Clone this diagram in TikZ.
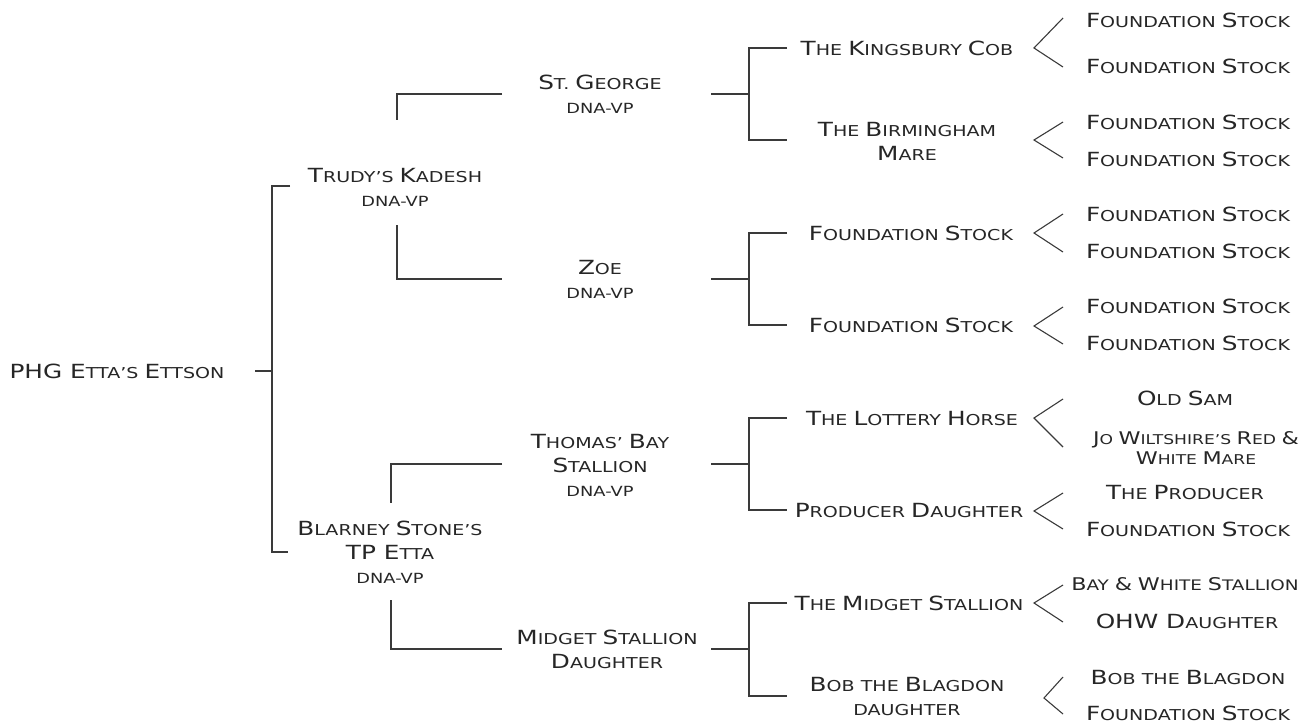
\documentclass[tikz,border=0pt]{standalone}
\usepackage{fontspec}
\setmainfont{DejaVu Sans}[FakeStretch=1.27]
\definecolor{txt}{HTML}{262626}
\definecolor{ln}{HTML}{3A3A3A}
\newcommand\Bg[1]{{\fontsize{19.5}{25}\selectfont #1}}
\newcommand\Bs[1]{{\fontsize{17.5}{20}\selectfont #1}}
\newcommand\Dv{{\fontsize{14}{25}\selectfont DNA-VP}}
\tikzset{
  nm/.style={align=center, inner sep=0pt, text=txt, font=\fontsize{15}{24}\selectfont},
  con/.style={draw=ln, line width=1.2pt},
  chev/.style={draw=ln, line width=1.1pt}
}
\begin{document}
\begin{tikzpicture}[x=1pt,y=-1pt]
\useasboundingbox (0,0) rectangle (1310,726);
% generation 0
\node[nm] (root) at (117,371) {\Bg{PHG E}TTA'S \Bg{E}TTSON};
% generation 1
\node[nm] (trudy) at (395,187) {\Bg{T}RUDY'S \Bg{K}ADESH\\\Dv};
\node[nm] (blarney) at (390,552) {\Bg{B}LARNEY \Bg{S}TONE'S\\\Bg{TP E}TTA\\\Dv};
% generation 2
\node[nm] (stg) at (600,94) {\Bg{S}T. \Bg{G}EORGE\\\Dv};
\node[nm] (zoe) at (600,279) {\Bg{Z}OE\\\Dv};
\node[nm] (thomas) at (600,465) {\Bg{T}HOMAS' \Bg{B}AY\\\Bg{S}TALLION\\\Dv};
\node[nm] (midget) at (607,649) {\Bg{M}IDGET \Bg{S}TALLION\\\Bg{D}AUGHTER};
% generation 3
\node[nm] (kings) at (907,48) {\Bg{T}HE \Bg{K}INGSBURY \Bg{C}OB};
\node[nm] (birm) at (907,141) {\Bg{T}HE \Bg{B}IRMINGHAM\\\Bg{M}ARE};
\node[nm] (fsa) at (911,233) {\Bg{F}OUNDATION \Bg{S}TOCK};
\node[nm] (fsb) at (911,325) {\Bg{F}OUNDATION \Bg{S}TOCK};
\node[nm] (lott) at (912,418) {\Bg{T}HE \Bg{L}OTTERY \Bg{H}ORSE};
\node[nm] (prodd) at (909,510) {\Bg{P}RODUCER \Bg{D}AUGHTER};
\node[nm] (midst) at (909,603) {\Bg{T}HE \Bg{M}IDGET \Bg{S}TALLION};
\node[nm] (bob) at (907,696) {\Bg{B}OB THE \Bg{B}LAGDON\\DAUGHTER};
% generation 4
\node[nm] (g1) at (1188,20) {\Bg{F}OUNDATION \Bg{S}TOCK};
\node[nm] (g2) at (1188,66) {\Bg{F}OUNDATION \Bg{S}TOCK};
\node[nm] (g3) at (1188,122) {\Bg{F}OUNDATION \Bg{S}TOCK};
\node[nm] (g4) at (1188,159) {\Bg{F}OUNDATION \Bg{S}TOCK};
\node[nm] (g5) at (1188,214) {\Bg{F}OUNDATION \Bg{S}TOCK};
\node[nm] (g6) at (1188,251) {\Bg{F}OUNDATION \Bg{S}TOCK};
\node[nm] (g7) at (1188,306) {\Bg{F}OUNDATION \Bg{S}TOCK};
\node[nm] (g8) at (1188,343) {\Bg{F}OUNDATION \Bg{S}TOCK};
\node[nm] (g9) at (1185,398) {\Bg{O}LD \Bg{S}AM};
\node[nm, font=\fontsize{13.5}{20}\selectfont] (g10) at (1196,448) {\Bs{J}O \Bs{W}ILTSHIRE'S \Bs{R}ED \Bs{\&}\\\Bs{W}HITE \Bs{M}ARE};
\node[nm] (g11) at (1185,492) {\Bg{T}HE \Bg{P}RODUCER};
\node[nm] (g12) at (1188,529) {\Bg{F}OUNDATION \Bg{S}TOCK};
\node[nm, font=\fontsize{14.5}{24}\selectfont] (g13) at (1185,584) {\Bs{B}AY \Bs{\&} \Bs{W}HITE \Bs{S}TALLION};
\node[nm] (g14) at (1187,621) {\Bg{OHW D}AUGHTER};
\node[nm] (g15) at (1188,677) {\Bg{B}OB THE \Bg{B}LAGDON};
\node[nm] (g16) at (1188,713) {\Bg{F}OUNDATION \Bg{S}TOCK};
% connector coordinates
\coordinate (r0) at (255,371); \coordinate (r1) at (272,371);
\coordinate (rt) at (290,186); \coordinate (rb) at (288,552);
\coordinate (ta) at (502,94); \coordinate (tb) at (397,120);
\coordinate (tc) at (397,225); \coordinate (td) at (502,279);
\coordinate (ba) at (502,464); \coordinate (bb) at (391,503);
\coordinate (bc) at (391,600); \coordinate (bd) at (502,649);
% root bracket
\draw[con] (r0) -- (r1);
\draw[con] (rt) -| (r1) |- (rb);
% generation 1 brackets
\draw[con] (ta) -| (tb);
\draw[con] (tc) |- (td);
\draw[con] (ba) -| (bb);
\draw[con] (bc) |- (bd);
% generation 2 brackets
\foreach \n/\y/\a/\b in {s/94/48/140, z/279/233/325, t/464/418/510, m/649/603/696}{
  \coordinate (\n0) at (711,\y); \coordinate (\n1) at (749,\y);
  \coordinate (\n2) at (787,\a); \coordinate (\n3) at (787,\b);
  \draw[con] (\n0) -- (\n1);
  \draw[con] (\n2) -| (\n1) |- (\n3);
}
% chevrons
\foreach \n/\ax/\ay/\t/\b in {c1/1034/48/18/67, c2/1034/140/122/158, c3/1034/233/214/252, c4/1034/326/307/344, c5/1034/418/399/447, c6/1034/511/493/529, c7/1034/603/585/622, c8/1044/698/677/714}{
  \coordinate (\n a) at (\ax,\ay); \coordinate (\n t) at (1063,\t); \coordinate (\n b) at (1063,\b);
  \draw[chev] (\n t) -- (\n a) -- (\n b);
}
\end{tikzpicture}
\end{document}
